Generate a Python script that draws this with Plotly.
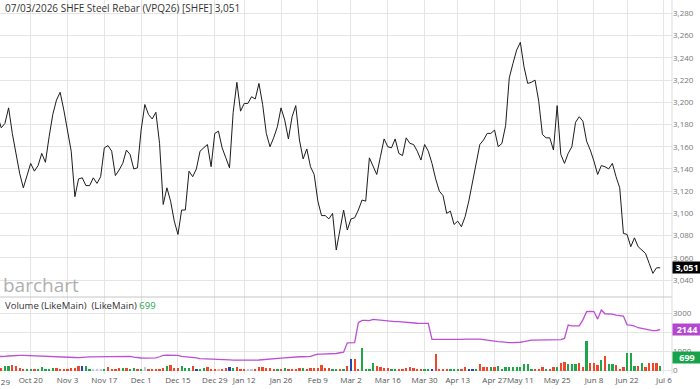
import pandas as pd
import plotly.graph_objects as go

# ---------------- data ----------------
holidays = ["2025-10-01", "2025-10-02", "2025-10-03", "2025-10-06", "2025-10-07", "2025-10-08",
            "2026-01-01", "2026-01-02",
            "2026-02-16", "2026-02-17", "2026-02-18", "2026-02-19", "2026-02-20", "2026-02-23",
            "2026-04-06", "2026-05-01", "2026-05-04", "2026-05-05", "2026-06-19"]
session_days = [d for d in pd.bdate_range("2025-09-29", "2026-07-10")
                if d.strftime("%Y-%m-%d") not in holidays]
n_data = 181  # Sep 29 2025 .. Jul 3 2026
dates = [d.strftime("%Y-%m-%d") for d in session_days[:n_data]]

close = [3188, 3177, 3181, 3195, 3172, 3153, 3136, 3123, 3135, 3145,
         3138, 3143, 3154, 3146, 3169, 3189, 3202, 3209, 3193, 3175,
         3156, 3115, 3131, 3132, 3125, 3125, 3132, 3127, 3133, 3159,
         3161, 3156, 3134, 3139, 3145, 3157, 3153, 3140, 3141, 3175,
         3198, 3189, 3185, 3191, 3163, 3108, 3123, 3111, 3093, 3081,
         3103, 3103, 3138, 3133, 3140, 3156, 3159, 3162, 3142, 3172,
         3174, 3159, 3150, 3141, 3191, 3218, 3192, 3199, 3199, 3205,
         3203, 3217, 3198, 3172, 3160, 3168, 3178, 3195, 3184, 3167,
         3187, 3197, 3166, 3149, 3158, 3142, 3135, 3111, 3098, 3098,
         3095, 3100, 3067, 3085, 3103, 3085, 3095, 3096, 3103, 3112,
         3111, 3150, 3142, 3135, 3151, 3167, 3160, 3159, 3167, 3154,
         3152, 3168, 3163, 3162, 3156, 3148, 3162, 3156, 3145, 3131,
         3120, 3116, 3100, 3102, 3090, 3093, 3088, 3097, 3111, 3127,
         3145, 3162, 3166, 3172, 3172, 3175, 3160, 3163, 3179, 3222,
         3235, 3247, 3254, 3232, 3217, 3218, 3220, 3201, 3171, 3168,
         3168, 3157, 3197, 3153, 3145, 3154, 3160, 3182, 3187, 3183,
         3165, 3157, 3147, 3135, 3143, 3142, 3140, 3145, 3133, 3123,
         3082, 3081, 3070, 3078, 3070, 3067, 3064, 3055, 3046, 3051,
         3051]

volume = [200, 157, 244, 244, 314, 250, 120, 70, 70, 70,
          70, 70, 183, 80, 80, 130, 130, 80, 80, 80,
          130, 157, 220, 220, 220, 80, 70, 60, 60, 80,
          183, 80, 80, 115, 130, 130, 80, 115, 80, 70,
          183, 70, 80, 80, 80, 115, 244, 314, 157, 157,
          244, 130, 130, 244, 80, 80, 130, 183, 80, 80,
          80, 70, 130, 183, 130, 183, 70, 70, 70, 50,
          70, 183, 183, 157, 130, 70, 70, 70, 130, 70,
          70, 70, 157, 157, 80, 157, 157, 157, 280, 157,
          130, 100, 80, 70, 80, 210, 590, 590, 100, 1180,
          70, 70, 400, 230, 190, 120, 110, 70, 90, 70,
          90, 120, 160, 120, 90, 105, 90, 70, 70, 890,
          70, 70, 70, 50, 70, 70, 70, 190, 90, 70,
          70, 330, 190, 160, 160, 160, 230, 105, 190, 190,
          190, 160, 190, 330, 350, 105, 105, 90, 160, 90,
          90, 160, 160, 370, 456, 330, 330, 350, 370, 160,
          1540, 385, 400, 300, 545, 755, 330, 315, 280, 90,
          190, 930, 930, 245, 245, 370, 190, 370, 370, 370,
          245, 699]

vol_dir = ["r", "r", "g", "g", "r", "r", "r", "r", "g", "g",
           "r", "g", "g", "g", "g", "g", "r", "r", "r", "r",
           "r", "r", "r", "b", "g", "g", "lb", "lb", "lb", "g",
           "r", "r", "r", "r", "g", "r", "g", "g", "r", "g",
           "lb", "r", "r", "r", "r", "r", "g", "r", "r", "r",
           "g", "g", "g", "r", "b", "g", "g", "r", "r", "r",
           "lr", "r", "r", "b", "g", "r", "r", "r", "lb", "lb",
           "r", "r", "r", "r", "r", "r", "g", "r", "g", "r",
           "r", "r", "r", "g", "r", "r", "r", "r", "r", "r",
           "r", "g", "g", "r", "g", "r", "b", "r", "r", "g",
           "g", "g", "g", "r", "r", "r", "r", "g", "g", "r",
           "r", "r", "r", "r", "r", "r", "g", "g", "b", "r",
           "r", "r", "r", "g", "g", "g", "r", "r", "b", "b",
           "g", "r", "r", "r", "g", "r", "g", "g", "g", "g",
           "g", "g", "g", "g", "g", "g", "r", "r", "r", "g",
           "r", "r", "g", "r", "r", "g", "g", "g", "r", "r",
           "g", "r", "r", "r", "g", "r", "g", "g", "r", "r",
           "r", "g", "g", "g", "r", "g", "r", "r", "r", "r",
           "g"]

open_interest = [730, 722, 740, 760, 780, 795, 796, 796, 790, 780,
                 770, 760, 750, 745, 740, 740, 738, 735, 730, 700,
                 690, 680, 670, 670, 700, 715, 720, 720, 720, 720,
                 720, 720, 720, 730, 745, 750, 735, 700, 670, 655,
                 650, 650, 648, 660, 720, 790, 800, 800, 800, 795,
                 740, 725, 720, 700, 660, 625, 620, 620, 615, 610,
                 590, 580, 575, 560, 545, 540, 540, 535, 535, 540,
                 545, 550, 560, 575, 590, 605, 625, 645, 660, 680,
                 700, 715, 720, 720, 725, 740, 800, 860, 860, 860,
                 862, 870, 890, 930, 960, 1450, 1450, 1460, 2500, 2620,
                 2620, 2610, 2680, 2660, 2610, 2610, 2600, 2580, 2560, 2560,
                 2540, 2500, 2480, 2475, 2475, 2470, 2475, 2470, 1630, 1630,
                 1630, 1620, 1600, 1595, 1600, 1610, 1630, 1645, 1650, 1650,
                 1650, 1640, 1620, 1590, 1560, 1520, 1510, 1500, 1470, 1460,
                 1455, 1460, 1480, 1510, 1560, 1590, 1595, 1600, 1595, 1600,
                 1630, 1620, 1640, 1620, 1680, 2380, 2340, 2330, 2340, 2650,
                 3080, 3090, 3085, 2690, 3170, 2970, 2960, 2950, 2900, 2860,
                 2850, 2390, 2380, 2330, 2240, 2200, 2160, 2120, 2090, 2095,
                 2144]

tick_dates = ["2025-09-29", "2025-10-20", "2025-11-03", "2025-11-17", "2025-12-01",
              "2025-12-15", "2025-12-29", "2026-01-12", "2026-01-26", "2026-02-09",
              "2026-03-02", "2026-03-16", "2026-03-30", "2026-04-13", "2026-04-27",
              "2026-05-11", "2026-05-25", "2026-06-08", "2026-06-22", "2026-07-06"]
tick_labels = ["Sep 29", "Oct 20", "Nov 3", "Nov 17", "Dec 1", "Dec 15", "Dec 29",
               "Jan 12", "Jan 26", "Feb 9", "Mar 2", "Mar 16", "Mar 30", "Apr 13",
               "Apr 27", "May 11", "May 25", "Jun 8", "Jun 22", "Jul 6"]

price_ticks = list(range(3040, 3281, 20))
vol_ticks = [0, 1000, 2000, 3000]
vol_tick_text = ["0", "1000", "", "3000"]  # 2000 sits under the open-interest badge

title_text = "07/03/2026 SHFE Steel Rebar (VPQ26) [SHFE] 3,051"
last_price = 3051
last_oi = 2144
last_vol = 699

# ---------------- positions on a session (trading-day) axis ----------------
all_days = [d.strftime("%Y-%m-%d") for d in session_days]
pos = [all_days.index(d) for d in dates]
tick_pos = [all_days.index(d) for d in tick_dates]

palette = {"g": "#1ea64b", "r": "#f2462c", "b": "#2446b5", "lb": "#b8c7e8", "lr": "#f6b2a4"}
bar_colors = [palette[c] for c in vol_dir]

GRID = "#e5e5e5"
FONT = "Open Sans"
W, H = 700, 389
PLOT_R = 672 / W
PRICE_BOTTOM = 1 - 297 / H
VOL_BOTTOM = 1 - 374 / H

fig = go.Figure()
fig.add_trace(go.Scatter(x=pos, y=close, mode="lines", line=dict(color="#1c1c1c", width=1),
                         xaxis="x", yaxis="y", hoverinfo="skip"))
fig.add_trace(go.Bar(x=pos, y=volume, marker=dict(color=bar_colors, line=dict(width=0)),
                     width=0.62, xaxis="x2", yaxis="y2", hoverinfo="skip"))
fig.add_trace(go.Scatter(x=pos, y=open_interest, mode="lines", line=dict(color="#bd4fd6", width=1.3),
                         xaxis="x2", yaxis="y2", hoverinfo="skip"))

xr = [0.66, 183.2]
fig.update_layout(
    width=W, height=H, margin=dict(l=0, r=0, t=0, b=0),
    paper_bgcolor="white", plot_bgcolor="white", showlegend=False,
    font=dict(family=FONT),
    xaxis=dict(domain=[0, PLOT_R], range=xr, anchor="y", tickvals=tick_pos,
               showticklabels=False, showgrid=True, gridcolor=GRID, gridwidth=1,
               zeroline=False, ticks=""),
    xaxis2=dict(domain=[0, PLOT_R], range=xr, anchor="y2", matches="x", tickvals=tick_pos,
                ticktext=tick_labels, tickangle=0, showgrid=True, gridcolor=GRID, gridwidth=1,
                zeroline=False, ticks="", tickfont=dict(size=8, color="#555555", family=FONT)),
    yaxis=dict(domain=[PRICE_BOTTOM, 1], range=[3024.7, 3292.1], side="right", anchor="x",
               tickvals=price_ticks, tickformat=",d", showgrid=True, gridcolor=GRID,
               zeroline=False, ticks="", tickfont=dict(size=8, color="#777777", family=FONT)),
    yaxis2=dict(domain=[VOL_BOTTOM, PRICE_BOTTOM], range=[-183, 3848], side="right", anchor="x2",
                tickvals=vol_ticks, ticktext=vol_tick_text, showgrid=True, gridcolor=GRID,
                zeroline=False, ticks="",
                tickfont=dict(size=8, color="#777777", family=FONT)),
    bargap=0,
)

# separators / frame
fig.add_shape(type="line", xref="paper", yref="paper", x0=0, x1=PLOT_R, y0=PRICE_BOTTOM,
              y1=PRICE_BOTTOM, line=dict(color="#c6c6c6", width=1))
fig.add_shape(type="line", xref="paper", yref="paper", x0=PLOT_R, x1=PLOT_R, y0=VOL_BOTTOM,
              y1=1, line=dict(color="#dcdcdc", width=1))

# texts
fig.add_annotation(xref="paper", yref="paper", x=3 / W, y=1 - 8 / H, xanchor="left",
                   yanchor="middle", text=title_text, showarrow=False,
                   font=dict(size=10, color="#333333", family=FONT))
fig.add_annotation(xref="paper", yref="paper", x=1 / W, y=1 - 285 / H, xanchor="left",
                   yanchor="middle", text="barchart", showarrow=False,
                   font=dict(size=19, color="#b0b0b0", family=FONT))
fig.add_annotation(xref="paper", yref="paper", x=3 / W, y=1 - 305 / H, xanchor="left",
                   yanchor="middle",
                   text=f"Volume (LikeMain)&nbsp; (LikeMain) <span style='color:#1ea64b'>{last_vol}</span>",
                   showarrow=False, font=dict(size=9.5, color="#333333", family=FONT))
fig.add_annotation(xref="paper", yref="paper", x=-2.4 / W, y=1 - 381 / H, xanchor="center",
                   yanchor="middle", text=tick_labels[0], showarrow=False,
                   font=dict(size=8, color="#555555", family=FONT))

for val, yref, bg in [(last_price, "y", "#000000"), (last_oi, "y2", "#b546cf"),
                      (last_vol, "y2", "#16a34a")]:
    fig.add_annotation(xref="paper", yref=yref, x=PLOT_R, y=val, xanchor="left",
                       yanchor="middle", text=f"<b>{val:,}</b>" if yref == "y" else f"<b>{val}</b>",
                       showarrow=False, bgcolor=bg, width=26, height=9, borderpad=1,
                       font=dict(size=9, color="white", family=FONT))

fig.write_html("out.html")
